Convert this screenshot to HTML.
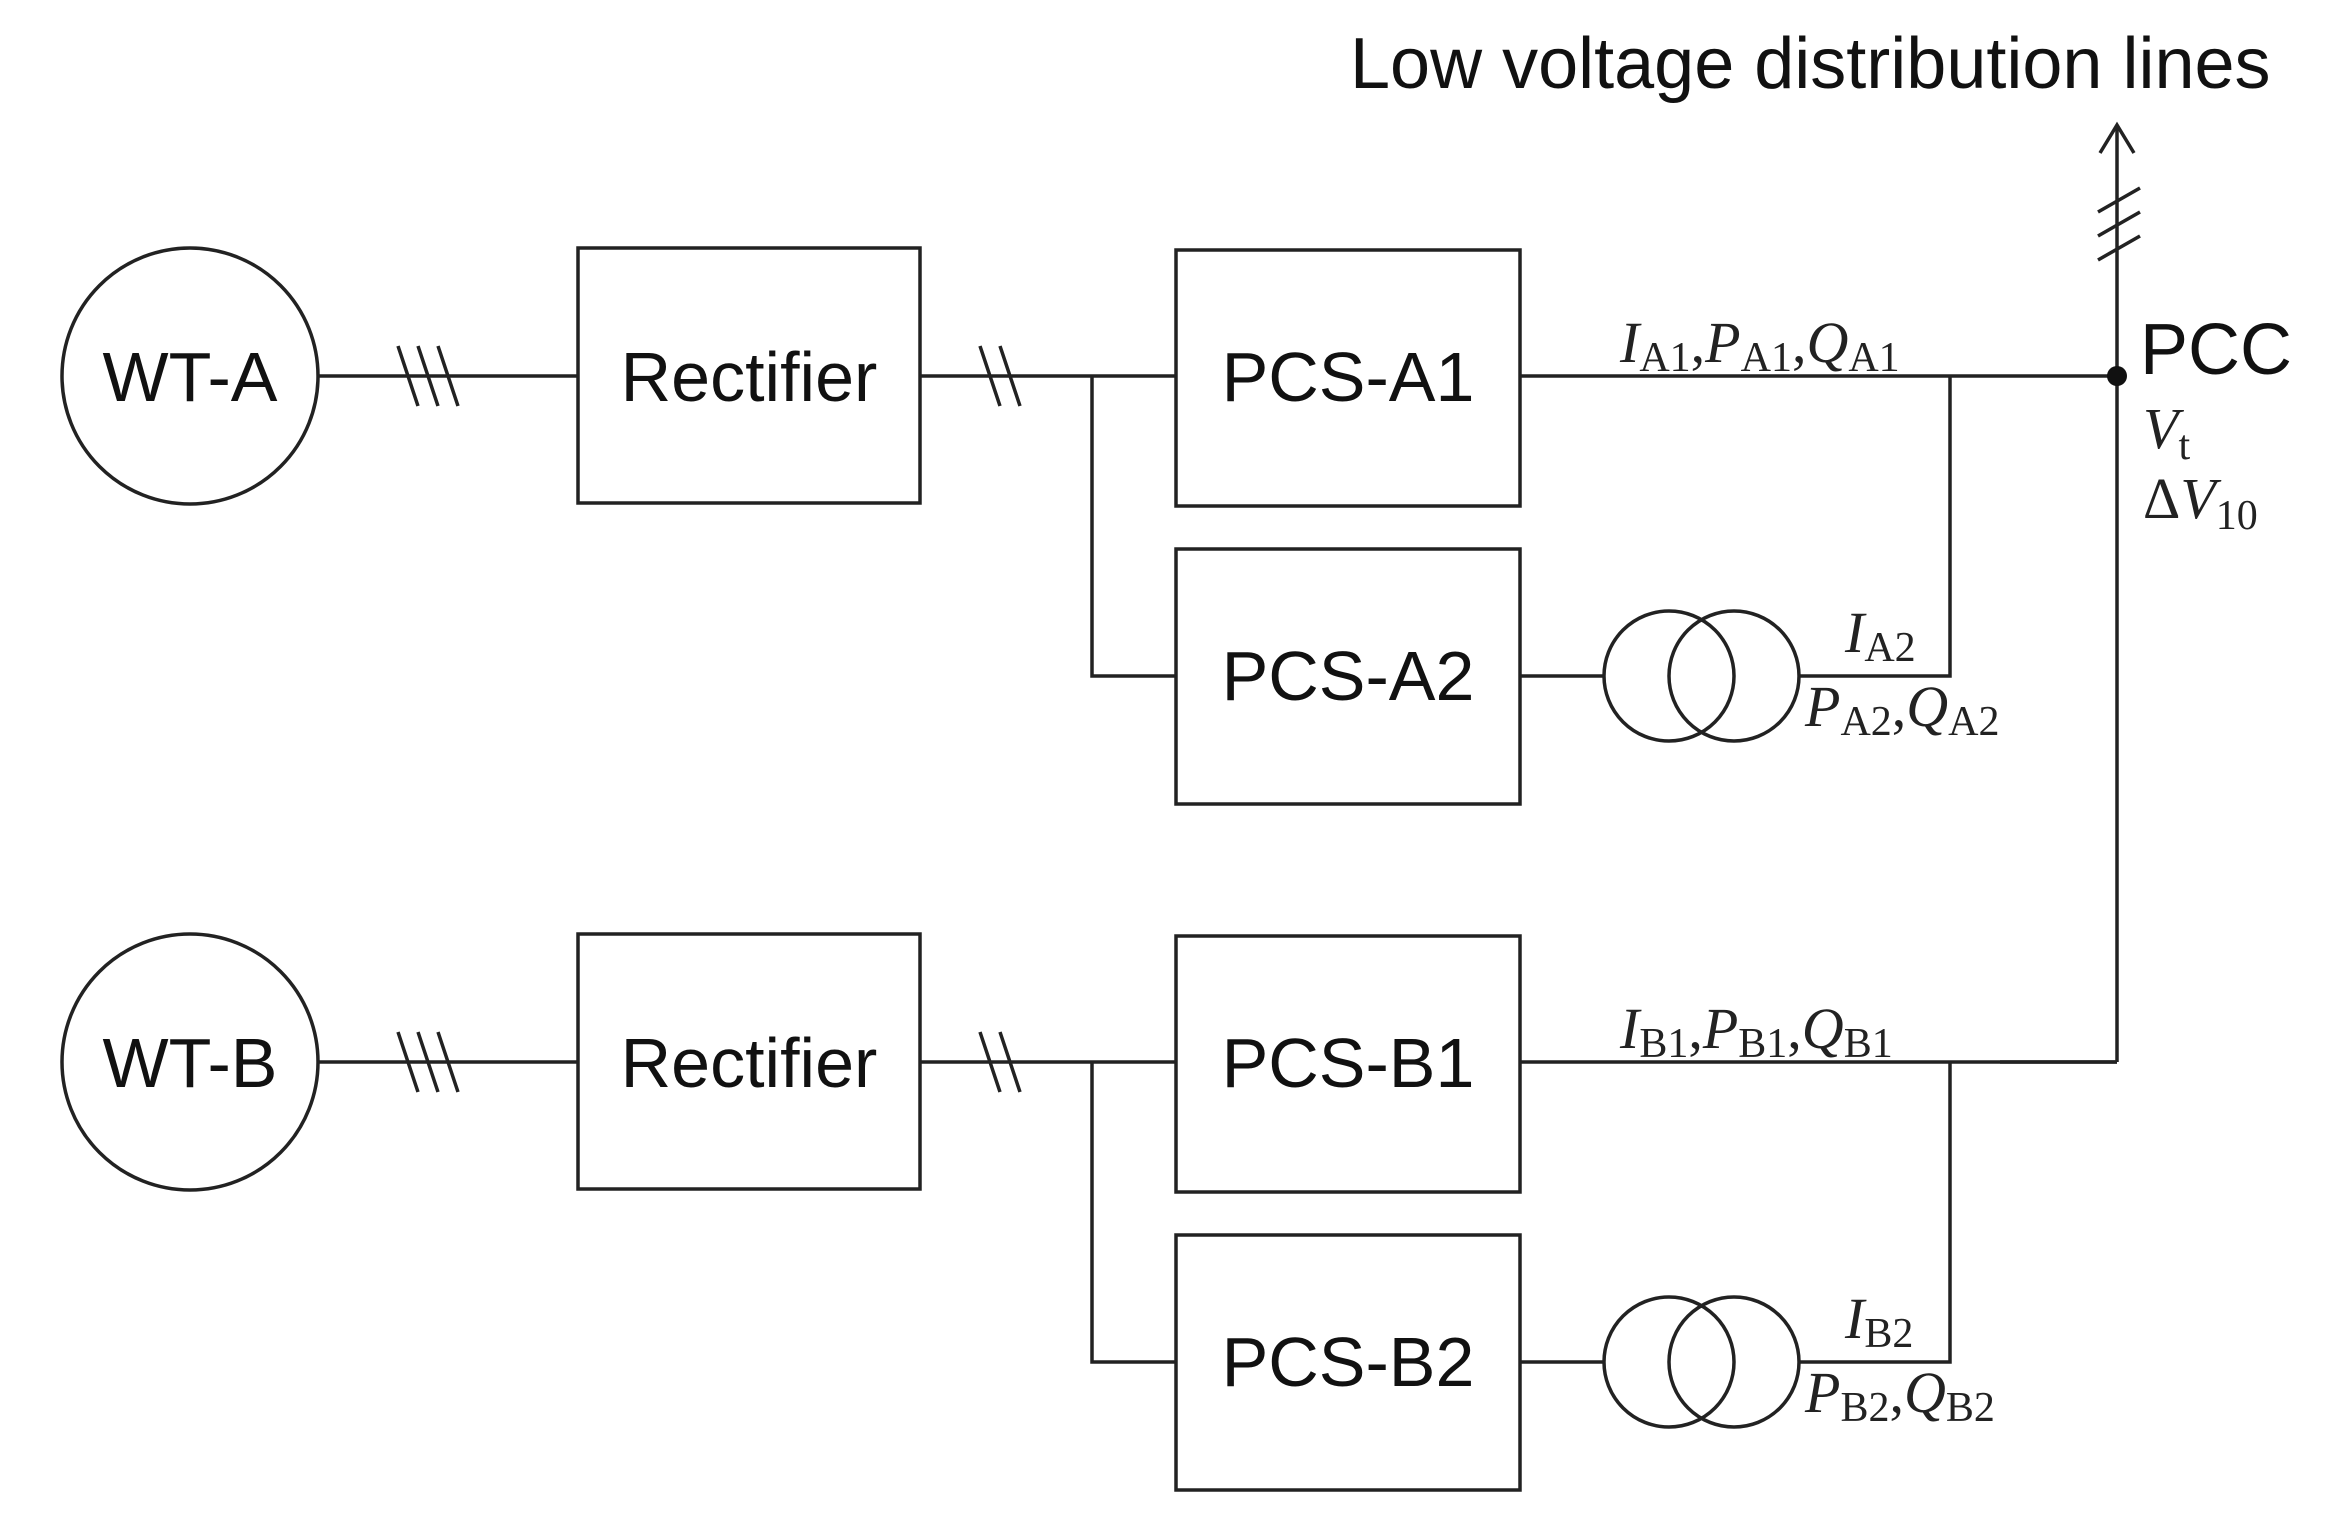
<!DOCTYPE html>
<html><head><meta charset="utf-8"><style>
html,body{margin:0;padding:0;background:#fff}
svg{display:block}
.t{font-family:"Liberation Sans",Arial,sans-serif;fill:#111}
.m{font-family:"Liberation Serif","DejaVu Serif",serif;fill:#222;font-size:58px}
.m .i{font-style:italic}
</style></head><body>
<svg width="2352" height="1528" viewBox="0 0 2352 1528" xmlns="http://www.w3.org/2000/svg">
<defs>
<g id="grp" stroke="#222" stroke-width="3.5" fill="none">
  <circle cx="190" cy="376" r="128"/>
  <line x1="318" y1="376" x2="578" y2="376"/>
  <line x1="398" y1="346" x2="418" y2="406"/><line x1="418" y1="346" x2="438" y2="406"/><line x1="438" y1="346" x2="458" y2="406"/>
  <rect x="578" y="248" width="342" height="255"/>
  <line x1="920" y1="376" x2="1176" y2="376"/>
  <line x1="980" y1="346" x2="1000" y2="406"/><line x1="1000" y1="346" x2="1020" y2="406"/>
  <polyline points="1092,376 1092,676 1176,676"/>
  <rect x="1176" y="250" width="344" height="256"/>
  <rect x="1176" y="549" width="344" height="255"/>
  <line x1="1520" y1="376" x2="2117" y2="376"/>
  <line x1="1520" y1="676" x2="1603" y2="676"/>
  <circle cx="1669" cy="676" r="65"/>
  <circle cx="1734" cy="676" r="65"/>
  <polyline points="1799,676 1950,676 1950,376"/>
</g>
</defs>
<use href="#grp"/>
<use href="#grp" transform="translate(0,686)"/>
<g stroke="#222" stroke-width="3.5" fill="none">
  <line x1="2117" y1="126" x2="2117" y2="1062"/>
  <line x1="2117" y1="1062" x2="2000" y2="1062"/>
  <polyline points="2100,153 2117,125 2134,153"/>
  <line x1="2098" y1="212" x2="2140" y2="188"/>
  <line x1="2098" y1="236" x2="2140" y2="212"/>
  <line x1="2098" y1="260" x2="2140" y2="236"/>
</g>
<circle cx="2117" cy="376" r="10" fill="#111"/>
<text class="t" x="1350" y="88" font-size="72">Low voltage distribution lines</text>
<text class="t" x="2140" y="374" font-size="72">PCC</text>
<g class="t" font-size="70" text-anchor="middle">
<text x="190" y="401">WT-A</text><text x="749" y="401">Rectifier</text>
<text x="1348" y="401">PCS-A1</text><text x="1348" y="700">PCS-A2</text>
<text x="190" y="1087">WT-B</text><text x="749" y="1087">Rectifier</text>
<text x="1348" y="1087">PCS-B1</text><text x="1348" y="1386">PCS-B2</text>
</g>
<text class="m" x="1620" y="362"><tspan class="i">I</tspan><tspan font-size="42" dy="9">A1</tspan><tspan dy="-9">,</tspan><tspan class="i">P</tspan><tspan font-size="42" dy="9">A1</tspan><tspan dy="-9">,</tspan><tspan class="i">Q</tspan><tspan font-size="42" dy="9">A1</tspan></text>
<text class="m" x="1620" y="1048"><tspan class="i">I</tspan><tspan font-size="42" dy="9">B1</tspan><tspan dy="-9">,</tspan><tspan class="i">P</tspan><tspan font-size="42" dy="9">B1</tspan><tspan dy="-9">,</tspan><tspan class="i">Q</tspan><tspan font-size="42" dy="9">B1</tspan></text>
<text class="m" x="1845" y="652"><tspan class="i">I</tspan><tspan font-size="42" dy="9">A2</tspan></text>
<text class="m" x="1805" y="726"><tspan class="i">P</tspan><tspan font-size="42" dy="9">A2</tspan><tspan dy="-9">,</tspan><tspan class="i">Q</tspan><tspan font-size="42" dy="9">A2</tspan></text>
<text class="m" x="1845" y="1338"><tspan class="i">I</tspan><tspan font-size="42" dy="9">B2</tspan></text>
<text class="m" x="1805" y="1412"><tspan class="i">P</tspan><tspan font-size="42" dy="9">B2</tspan><tspan dy="-9">,</tspan><tspan class="i">Q</tspan><tspan font-size="42" dy="9">B2</tspan></text>
<text class="m" x="2143" y="448"><tspan class="i">V</tspan><tspan font-size="42" dy="11">t</tspan></text>
<text class="m" x="2143" y="518">Δ<tspan class="i">V</tspan><tspan font-size="42" dy="11">10</tspan></text>
</svg>
</body></html>
